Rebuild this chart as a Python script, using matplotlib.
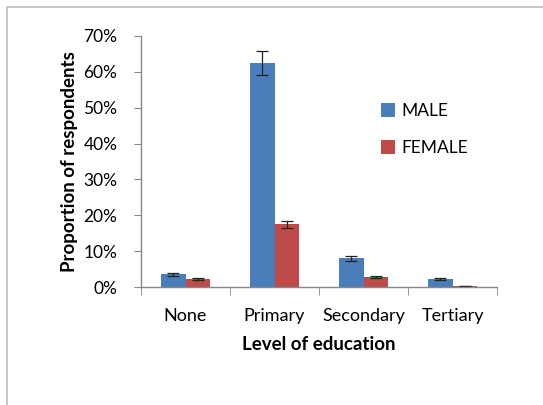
import matplotlib
matplotlib.use("Agg")
import matplotlib.pyplot as plt
from matplotlib.ticker import FuncFormatter, FixedLocator
import numpy as np

categories = ["None", "Primary", "Secondary", "Tertiary"]
male = [3.5, 62.5, 8.0, 2.2]
male_err = [0.3, 3.3, 0.7, 0.2]
female = [2.2, 17.5, 2.9, 0.3]
female_err = [0.2, 1.0, 0.3, 0.1]

plt.rcParams['font.family'] = ['Lato', 'DejaVu Sans']

fig = plt.figure(figsize=(5.43, 4.05), dpi=100)
fig.patches.append(plt.Rectangle((7/543, -0.1), 1.2, 1 - 7/405 + 0.1,
                                 transform=fig.transFigure, fill=False,
                                 edgecolor='#bfbfbf', linewidth=1.2))
ax = fig.add_axes([141/543, 1 - 287/405, (497 - 141)/543, (287 - 36)/405])

x = np.arange(len(categories))
w = 0.28
ax.bar(x - w/2, male, w, color='#4a7ebb', label='MALE',
       yerr=male_err, error_kw=dict(ecolor='#222222', elinewidth=0.9, capsize=4, capthick=0.9))
ax.bar(x + w/2, female, w, color='#be4b48', label='FEMALE',
       yerr=female_err, error_kw=dict(ecolor='#222222', elinewidth=0.9, capsize=4, capthick=0.9))

ax.set_xlim(-0.5, 3.5)
ax.set_ylim(0, 70)
ax.set_yticks(np.arange(0, 71, 10))
ax.yaxis.set_major_formatter(FuncFormatter(lambda v, p: f"{int(v)}%"))
ax.set_xticks(x)
ax.set_xticklabels(categories)
ax.xaxis.set_minor_locator(FixedLocator([-0.5, 0.5, 1.5, 2.5, 3.5]))
ax.tick_params(axis='x', which='major', length=0, pad=15, labelsize=13, colors='#000000')
ax.tick_params(axis='x', which='minor', length=6, color='#888888', direction='out')
ax.tick_params(axis='y', length=5, color='#888888', labelsize=12.5, pad=12)

for s in ['top', 'right']:
    ax.spines[s].set_visible(False)
for s in ['left', 'bottom']:
    ax.spines[s].set_color('#888888')
    ax.spines[s].set_linewidth(1.0)

ax.set_xlabel("Level of education", fontsize=13.5, fontweight='bold', labelpad=9)
ax.set_ylabel("Proportion of respondents", fontsize=13.5, fontweight='bold', labelpad=4)

leg = ax.legend(loc='upper left', bbox_to_anchor=(0.63, 0.795), frameon=False,
                fontsize=12.5, handlelength=0.8, handleheight=0.8, labelspacing=1.2,
                handletextpad=0.4)

fig.savefig("out.png", dpi=100)
